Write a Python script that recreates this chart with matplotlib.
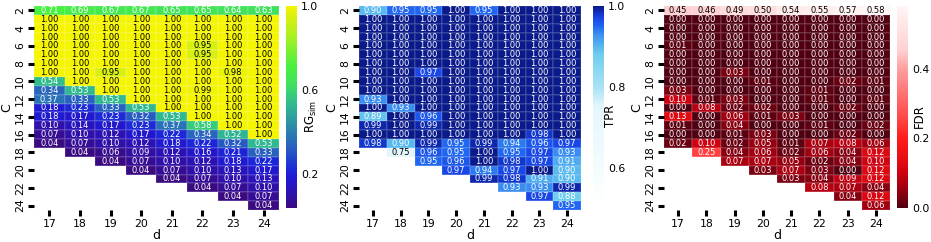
import numpy as np
import matplotlib
matplotlib.use("Agg")
import matplotlib.pyplot as plt
import seaborn as sns
from matplotlib.colors import LinearSegmentedColormap

C_vals = list(range(2, 25))
d_vals = list(range(17, 25))
n = np.nan

rg_sim = [
    [0.71, 0.69, 0.67, 0.67, 0.65, 0.65, 0.64, 0.63],
    [1.00, 1.00, 1.00, 1.00, 1.00, 1.00, 1.00, 1.00],
    [1.00, 1.00, 1.00, 1.00, 1.00, 1.00, 1.00, 1.00],
    [1.00, 1.00, 1.00, 1.00, 1.00, 1.00, 1.00, 1.00],
    [1.00, 1.00, 1.00, 1.00, 1.00, 0.95, 1.00, 1.00],
    [1.00, 1.00, 1.00, 1.00, 1.00, 0.95, 1.00, 1.00],
    [1.00, 1.00, 1.00, 1.00, 1.00, 1.00, 1.00, 1.00],
    [1.00, 1.00, 0.95, 1.00, 1.00, 1.00, 0.98, 1.00],
    [0.54, 1.00, 1.00, 1.00, 1.00, 1.00, 1.00, 1.00],
    [0.34, 0.53, 1.00, 1.00, 1.00, 0.99, 1.00, 1.00],
    [0.37, 0.33, 0.53, 1.00, 1.00, 1.00, 1.00, 1.00],
    [0.18, 0.23, 0.33, 0.53, 1.00, 1.00, 1.00, 1.00],
    [0.18, 0.17, 0.23, 0.32, 0.53, 1.00, 1.00, 1.00],
    [0.10, 0.14, 0.17, 0.23, 0.37, 0.58, 1.00, 1.00],
    [0.07, 0.10, 0.12, 0.17, 0.22, 0.34, 0.52, 1.00],
    [0.04, 0.07, 0.10, 0.12, 0.18, 0.22, 0.32, 0.53],
    [n, 0.04, 0.06, 0.09, 0.12, 0.16, 0.21, 0.33],
    [n, n, 0.04, 0.07, 0.10, 0.12, 0.18, 0.22],
    [n, n, n, 0.04, 0.07, 0.10, 0.13, 0.17],
    [n, n, n, n, 0.04, 0.07, 0.10, 0.13],
    [n, n, n, n, n, 0.04, 0.07, 0.10],
    [n, n, n, n, n, n, 0.04, 0.07],
    [n, n, n, n, n, n, n, 0.04],
]

tpr = [
    [0.90, 0.95, 0.95, 1.00, 0.95, 1.00, 1.00, 1.00],
    [1.00, 1.00, 1.00, 1.00, 1.00, 1.00, 1.00, 1.00],
    [1.00, 1.00, 1.00, 1.00, 1.00, 1.00, 1.00, 1.00],
    [1.00, 1.00, 1.00, 1.00, 1.00, 1.00, 1.00, 1.00],
    [1.00, 1.00, 1.00, 1.00, 1.00, 1.00, 1.00, 1.00],
    [1.00, 1.00, 1.00, 1.00, 1.00, 1.00, 1.00, 1.00],
    [1.00, 1.00, 1.00, 1.00, 1.00, 1.00, 1.00, 1.00],
    [1.00, 1.00, 0.97, 1.00, 1.00, 1.00, 1.00, 1.00],
    [1.00, 1.00, 1.00, 1.00, 1.00, 1.00, 1.00, 1.00],
    [1.00, 1.00, 1.00, 1.00, 1.00, 1.00, 1.00, 1.00],
    [0.93, 1.00, 1.00, 1.00, 1.00, 1.00, 1.00, 1.00],
    [1.00, 0.93, 1.00, 1.00, 1.00, 1.00, 1.00, 1.00],
    [0.89, 1.00, 0.96, 1.00, 1.00, 1.00, 1.00, 1.00],
    [0.99, 1.00, 0.99, 1.00, 1.00, 1.00, 1.00, 1.00],
    [1.00, 1.00, 1.00, 1.00, 1.00, 1.00, 0.98, 1.00],
    [0.98, 0.90, 0.99, 0.95, 0.99, 0.94, 0.96, 0.97],
    [n, 0.75, 0.96, 0.95, 1.00, 0.95, 0.97, 0.93],
    [n, n, 0.95, 0.96, 1.00, 0.98, 0.97, 0.91],
    [n, n, n, 0.97, 0.94, 0.97, 1.00, 0.90],
    [n, n, n, n, 0.99, 0.98, 0.91, 0.90],
    [n, n, n, n, n, 0.93, 0.93, 0.99],
    [n, n, n, n, n, n, 0.97, 0.88],
    [n, n, n, n, n, n, n, 0.95],
]

fdr = [
    [0.45, 0.46, 0.49, 0.50, 0.54, 0.55, 0.57, 0.58],
    [0.00, 0.00, 0.00, 0.00, 0.00, 0.00, 0.00, 0.00],
    [0.00, 0.00, 0.00, 0.00, 0.00, 0.00, 0.00, 0.00],
    [0.00, 0.00, 0.00, 0.00, 0.00, 0.00, 0.00, 0.00],
    [0.01, 0.00, 0.00, 0.00, 0.00, 0.00, 0.00, 0.00],
    [0.00, 0.00, 0.00, 0.00, 0.00, 0.00, 0.00, 0.00],
    [0.00, 0.00, 0.00, 0.00, 0.00, 0.00, 0.00, 0.00],
    [0.00, 0.00, 0.03, 0.00, 0.00, 0.00, 0.00, 0.00],
    [0.00, 0.00, 0.00, 0.01, 0.00, 0.00, 0.02, 0.01],
    [0.03, 0.00, 0.00, 0.00, 0.00, 0.01, 0.00, 0.00],
    [0.10, 0.01, 0.03, 0.00, 0.00, 0.01, 0.00, 0.01],
    [0.00, 0.08, 0.02, 0.02, 0.00, 0.00, 0.02, 0.00],
    [0.13, 0.00, 0.06, 0.01, 0.03, 0.00, 0.00, 0.00],
    [0.01, 0.00, 0.04, 0.00, 0.00, 0.01, 0.00, 0.02],
    [0.00, 0.00, 0.01, 0.03, 0.00, 0.00, 0.02, 0.00],
    [0.02, 0.10, 0.02, 0.05, 0.01, 0.07, 0.08, 0.06],
    [n, 0.25, 0.04, 0.06, 0.02, 0.06, 0.04, 0.12],
    [n, n, 0.07, 0.07, 0.05, 0.02, 0.04, 0.10],
    [n, n, n, 0.03, 0.07, 0.03, 0.00, 0.12],
    [n, n, n, n, 0.03, 0.04, 0.09, 0.12],
    [n, n, n, n, n, 0.08, 0.07, 0.04],
    [n, n, n, n, n, n, 0.04, 0.12],
    [n, n, n, n, n, n, n, 0.06],
]

rg_cmap = LinearSegmentedColormap.from_list("rg", [
    (0.00, "#3a0a80"), (0.06, "#3010a8"), (0.14, "#2018d0"), (0.19, "#1c28d8"),
    (0.30, "#2860c0"), (0.34, "#2a70b8"), (0.51, "#30b890"), (0.55, "#34c880"),
    (0.61, "#40e060"), (0.70, "#48f040"), (0.85, "#a8f020"), (0.95, "#d8f010"),
    (1.00, "#f5f500")])
tpr_cmap = LinearSegmentedColormap.from_list("tpr", [
    (0.00, "#ffffff"), (0.50, "#e4f6fc"), (0.60, "#a8e2f4"), (0.76, "#70cdf0"),
    (0.80, "#58b8f0"), (0.86, "#3c90f0"), (0.90, "#2068f0"), (0.94, "#1848e8"),
    (0.97, "#1030c0"), (1.00, "#0a1a8a")])
fdr_cmap = LinearSegmentedColormap.from_list("fdr", [
    (0.00, "#500010"), (0.05, "#7a0010"), (0.10, "#a00010"), (0.17, "#cc0010"),
    (0.22, "#e00a10"), (0.34, "#ff1a1a"), (0.43, "#ff4040"), (0.69, "#ffa0a0"),
    (0.78, "#ffd0d0"), (1.00, "#fff5f5")])

panels = [
    (rg_sim, rg_cmap, 0.04, 1.00, r"RG$_{\mathrm{sim}}$", [0.2, 0.6, 1.0],
     lambda v: v >= 0.9, (34, 279), (286, 297), 311),
    (tpr, tpr_cmap, 0.50, 1.00, "TPR", [0.6, 0.8, 1.0],
     lambda v: v < 0.8, (359, 581), (593, 604), 611),
    (fdr, fdr_cmap, 0.00, 0.58, "FDR", [0.0, 0.2, 0.4],
     lambda v: v >= 0.4, (664, 890), (897, 908), 919),
]

W, H = 931, 242
fig = plt.figure(figsize=(W / 100, H / 100), dpi=100)

for data, cmap, vmin, vmax, label, cticks, dark_text, (x0, x1), (c0, c1), lx in panels:
    arr = np.array(data, dtype=float)
    ax = fig.add_axes([x0 / W, 32 / H, (x1 - x0) / W, 204 / H])
    cax = fig.add_axes([c0 / W, 34 / H, (c1 - c0) / W, 202 / H])
    sns.heatmap(arr, ax=ax, cbar_ax=cax, cmap=cmap, vmin=vmin, vmax=vmax,
                mask=np.isnan(arr), annot=True, fmt=".2f",
                annot_kws={"fontsize": 6}, linewidths=0.3,
                linecolor=(1, 1, 1, 0.10),
                xticklabels=d_vals, yticklabels=C_vals)
    for t in ax.texts:
        v = float(t.get_text())
        t.set_color("black" if dark_text(v) else "white")
    ax.set_yticks(np.arange(0, len(C_vals), 2) + 0.5)
    ax.set_yticklabels([str(c) for c in C_vals[::2]], rotation=90, va="center",
                       fontsize=7.8)
    ax.set_xticks(np.arange(len(d_vals)) + 0.5)
    ax.set_xticklabels([str(d) for d in d_vals], rotation=0, fontsize=7.8)
    ax.tick_params(length=4.5, width=2.2, color="black", pad=2)
    ax.set_xlabel("d", fontsize=9, labelpad=0)
    ax.set_ylabel("C", fontsize=9, labelpad=1)
    cb = ax.collections[0].colorbar
    cb.set_ticks(cticks)
    cb.ax.tick_params(length=0, labelsize=7.8, pad=3)
    cb.outline.set_visible(False)
    fig.text(lx / W, 1 - 116 / H, label, rotation=90, ha="center", va="center",
             fontsize=8.5)

fig.savefig("out.png", dpi=100)
